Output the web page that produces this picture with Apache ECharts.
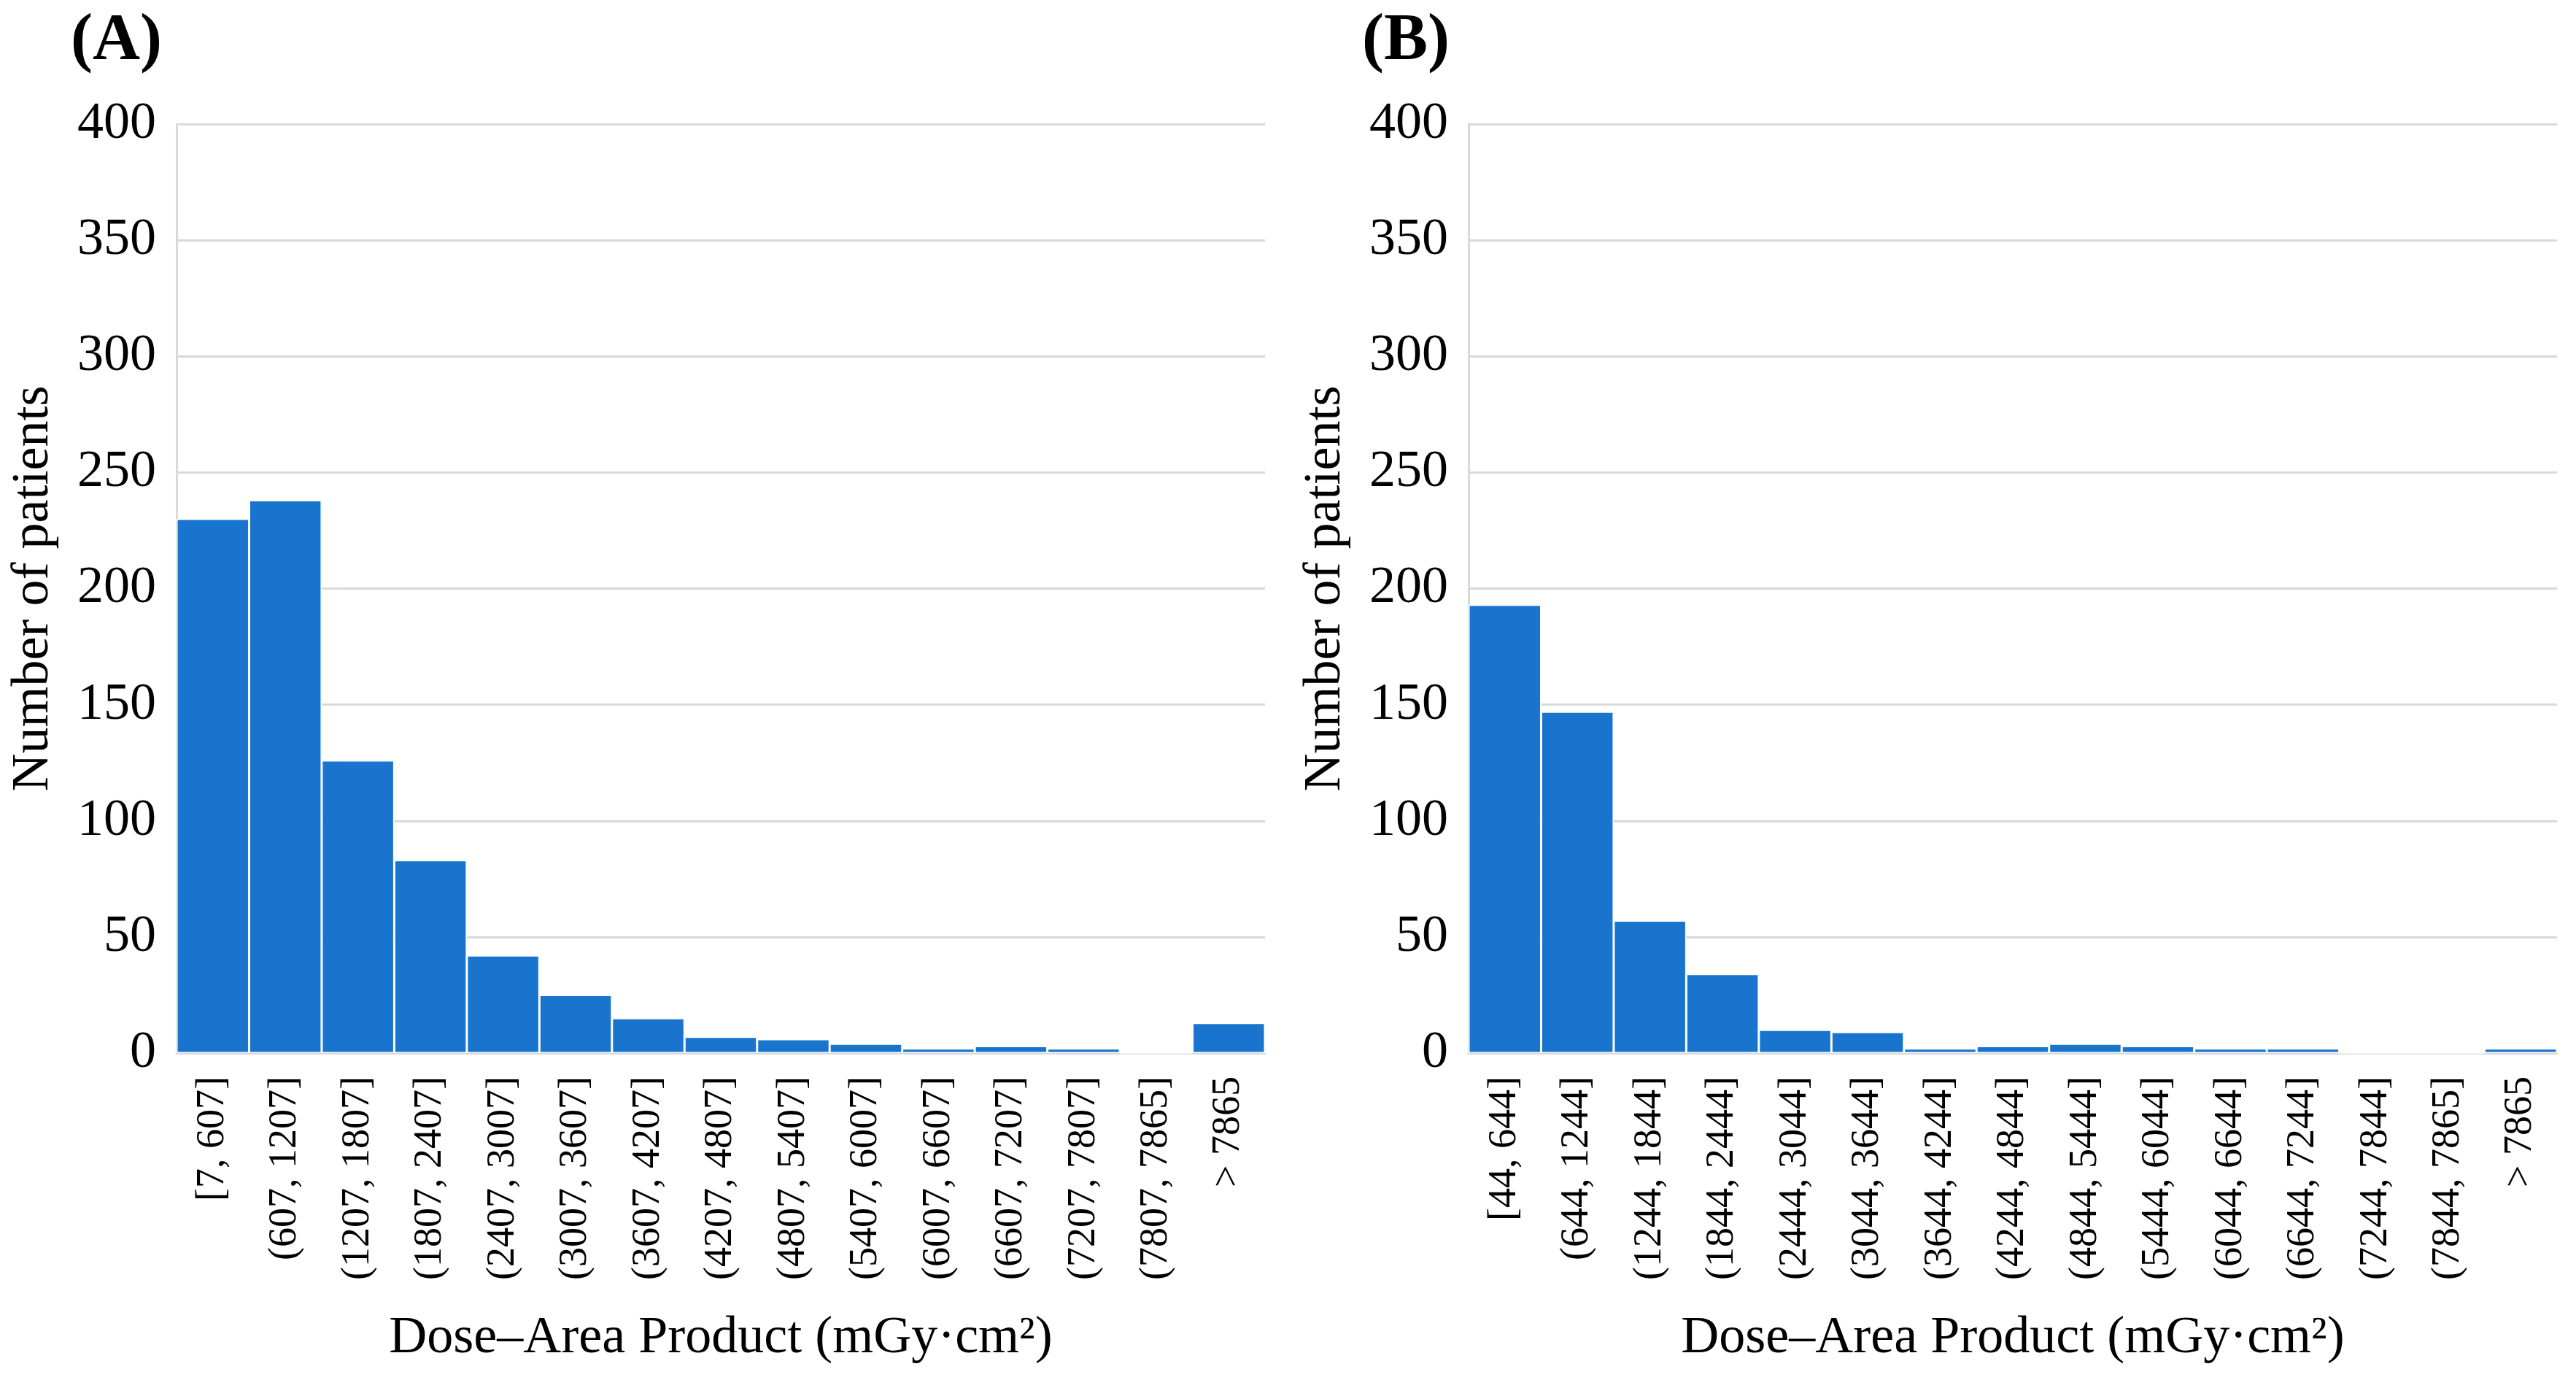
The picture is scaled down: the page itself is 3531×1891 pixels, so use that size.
<!DOCTYPE html>
<html>
<head>
<meta charset="utf-8">
<script src="https://cdn.jsdelivr.net/npm/echarts@6/dist/echarts.min.js"></script>
<style>html,body{margin:0;padding:0;background:#fff;}#c{width:3531px;height:1891px;}</style>
</head>
<body>
<div id="c"></div>
<script>
const catsA = ['[7, 607]','(607, 1207]','(1207, 1807]','(1807, 2407]','(2407, 3007]','(3007, 3607]','(3607, 4207]','(4207, 4807]','(4807, 5407]','(5407, 6007]','(6007, 6607]','(6607, 7207]','(7207, 7807]','(7807, 7865]','> 7865'];
const valsA = [230, 238, 126, 83, 42, 25, 15, 7, 6, 4, 2, 3, 2, 0, 13];
const catsB = ['[44, 644]','(644, 1244]','(1244, 1844]','(1844, 2444]','(2444, 3044]','(3044, 3644]','(3644, 4244]','(4244, 4844]','(4844, 5444]','(5444, 6044]','(6044, 6644]','(6644, 7244]','(7244, 7844]','(7844, 7865]','> 7865'];
const valsB = [193, 147, 57, 34, 10, 9, 2, 3, 4, 3, 2, 2, 0, 0, 2];
const yTicks = {min: 0, max: 400, interval: 50};
const xTitle = 'Dose\u2013Area Product (mGy\u00b7cm\u00b2)';
const yTitle = 'Number of patients';

const FONT = 'Liberation Serif';
const chart = echarts.init(document.getElementById('c'), null, {renderer: 'canvas'});
function xAx(cats, gi) {
  return {
    type: 'category', gridIndex: gi, data: cats,
    name: xTitle, nameLocation: 'middle', nameGap: 355,
    nameTextStyle: {fontFamily: FONT, fontSize: 72, color: '#000'},
    axisLine: {show: true, lineStyle: {color: '#d9d9d9', width: 3}},
    axisTick: {show: false},
    axisLabel: {interval: 0, rotate: 90, margin: 32, fontFamily: FONT, fontSize: 54, color: '#000'}
  };
}
function yAx(gi) {
  return {
    type: 'value', gridIndex: gi, min: yTicks.min, max: yTicks.max, interval: yTicks.interval,
    name: yTitle, nameLocation: 'middle', nameGap: 160,
    nameTextStyle: {fontFamily: FONT, fontSize: 72, color: '#000'},
    axisLine: {show: true, lineStyle: {color: '#d9d9d9', width: 3}},
    axisTick: {show: false},
    splitLine: {show: true, lineStyle: {color: '#d9d9d9', width: 3}},
    axisLabel: {margin: 28, fontFamily: FONT, fontSize: 72, color: '#000'}
  };
}
function ser(vals, gi) {
  return {
    type: 'bar', xAxisIndex: gi, yAxisIndex: gi, data: vals,
    barCategoryGap: '0%',
    itemStyle: {color: '#1874CD', borderColor: '#ffffff', borderWidth: 1.5},
    animation: false
  };
}
chart.setOption({
  animation: false,
  title: [
    {text: '(A)', left: 92, top: 8, textStyle: {fontFamily: FONT, fontSize: 90, fontWeight: 'bold', color: '#000'}},
    {text: '(B)', left: 1862, top: 8, textStyle: {fontFamily: FONT, fontSize: 90, fontWeight: 'bold', color: '#000'}}
  ],
  grid: [
    {left: 242, top: 170, width: 1492, height: 1273, containLabel: false},
    {left: 2013, top: 170, width: 1492, height: 1273, containLabel: false}
  ],
  xAxis: [xAx(catsA, 0), xAx(catsB, 1)],
  yAxis: [yAx(0), yAx(1)],
  series: [ser(valsA, 0), ser(valsB, 1)]
});
</script>
</body>
</html>
